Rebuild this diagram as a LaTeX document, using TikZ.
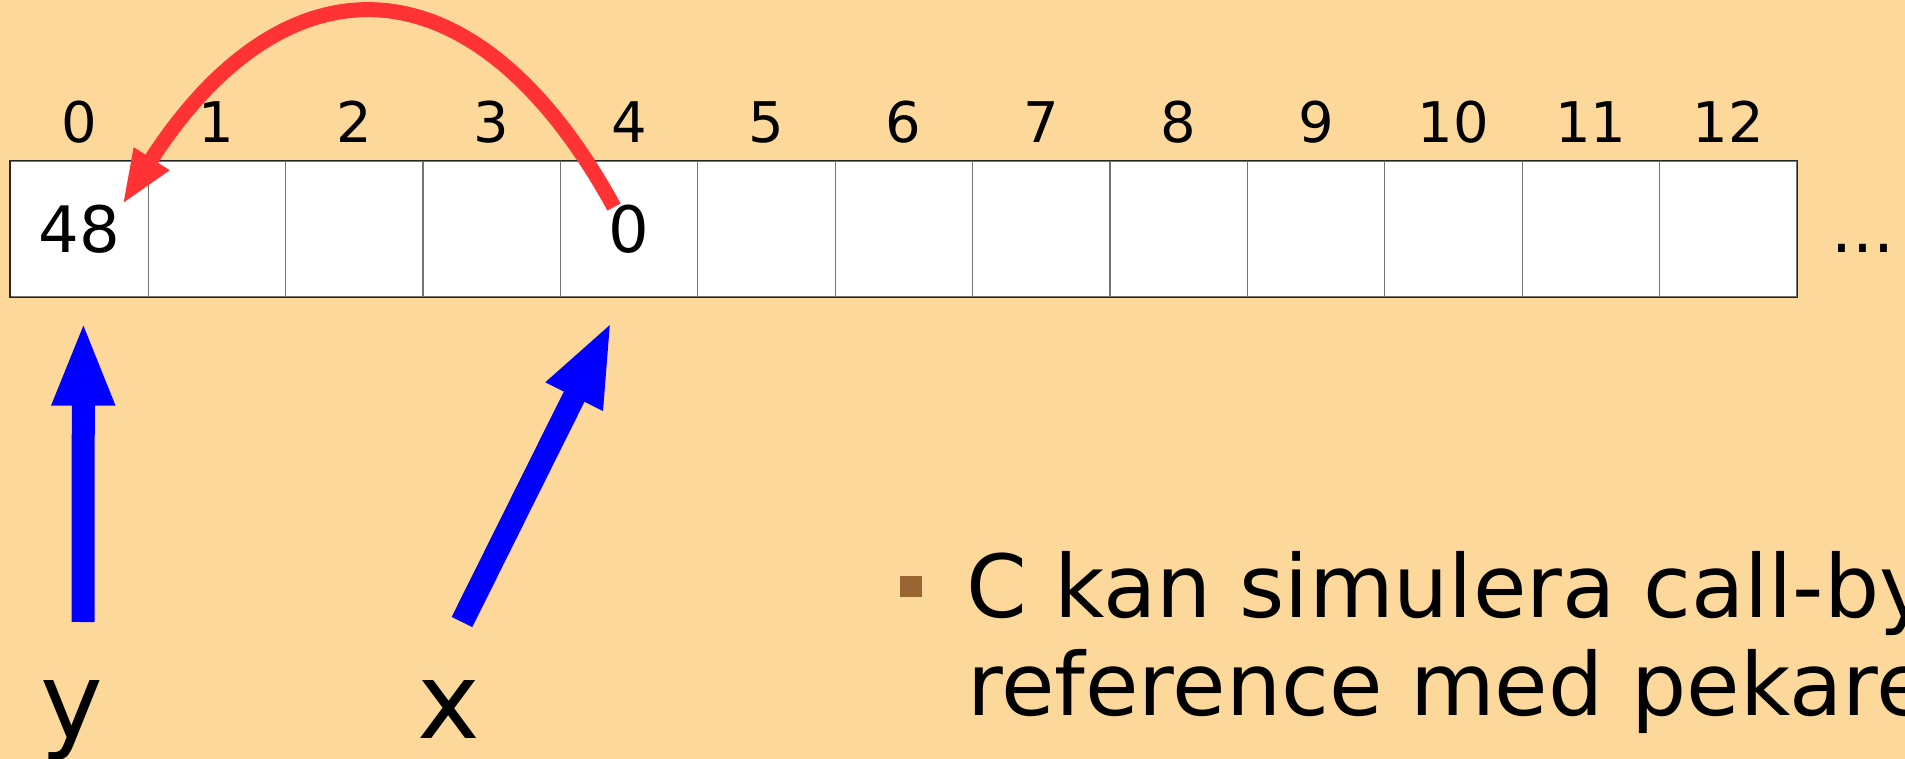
\documentclass[tikz,border=0pt]{standalone}
\usepackage{fontspec}
\setmainfont{DejaVu Sans}
\usepackage{xcolor}
\usetikzlibrary{arrows.meta,calc}
\definecolor{slidebg}{HTML}{FCD99B}
\definecolor{ptrred}{HTML}{FF3333}
\definecolor{bulletbrown}{HTML}{996633}

\begin{document}
\begin{tikzpicture}[x=1pt,y=-1pt,
  cell/.style={draw=black!55,line width=1.2pt,fill=white,minimum width=137.4pt,minimum height=136pt,inner sep=0pt},
  idx/.style={anchor=base,inner sep=0pt,font=\fontsize{56}{60}\selectfont},
  val/.style={inner sep=0pt,font=\fontsize{64}{70}\selectfont},
  lbl/.style={anchor=base,inner sep=0pt,font=\fontsize{106}{110}\selectfont},
  txt/.style={anchor=base west,inner sep=0pt,font=\fontsize{87}{98}\selectfont},
  ptr/.style={ptrred,line width=15pt,-{Triangle[length=55pt,width=38pt]}},
  ref/.style={blue,line width=23pt,-{Triangle[length=85pt,width=57pt]}}]
  \fill[slidebg] (0,0) rectangle (1905,759);
  \useasboundingbox (0,0) rectangle (1905,759);
  \clip (0,0) rectangle (1905,759);
  % the array
  \foreach \i in {0,...,12}{
    \node[cell] (c\i) at ({79.4+137.4*\i},229) {};
    \node[idx] (i\i) at ([yshift=18pt]c\i.north) {\i};
  }
  \draw[black!85,line width=1.5pt] (c0.north west) rectangle (c12.south east);
  \node[val] (v0) at (c0) {48};
  \node[val] (v4) at (c4) {0};
  \node[anchor=base,inner sep=0pt,font=\fontsize{66}{70}\selectfont] (dots) at (1863,253) {...};
  % pointer stored in cell 4
  \coordinate (p4) at (614,207);
  \coordinate (p0) at (122,205);
  \draw[ptr] (p4) .. controls (475,-47) and (285,-49) .. (p0);
  % variables
  \node[lbl] (lbly) at (72,738) {y};
  \node[lbl] (lblx) at (449,738) {x};
  \coordinate (ytail) at (83,622);
  \coordinate (xtail) at (462,622);
  \draw[ref] (ytail) -- ([xshift=4pt,yshift=-23pt]c0.south);
  \draw[ref] (xtail) -- ([xshift=-17pt,yshift=-23pt]c4.south);
  % bullet text
  \node[fill=bulletbrown,minimum width=22pt,minimum height=21pt,inner sep=0pt] (bullet) at (911,586.5) {};
  \node[txt] (line1) at (966,617) {C kan simulera call-by};
  \node[txt] (line2) at (967,715) {reference med pekare};
\end{tikzpicture}
\end{document}
